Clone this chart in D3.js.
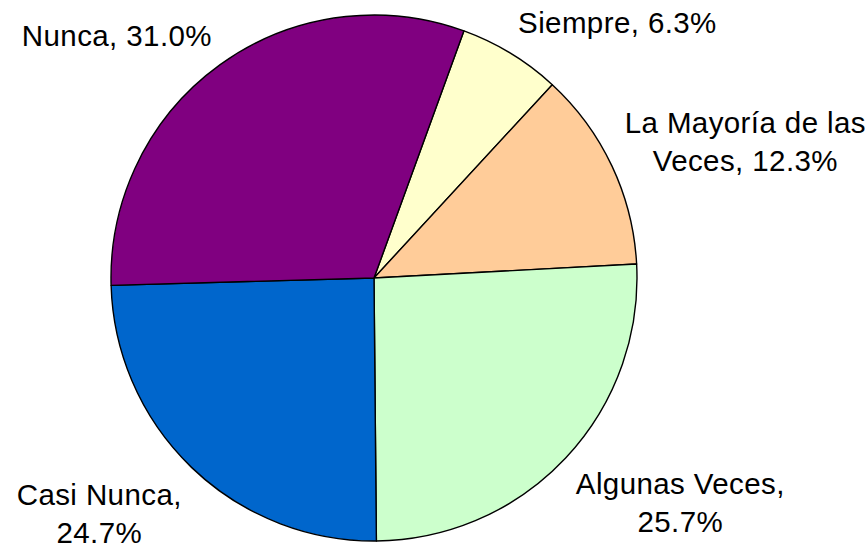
<!DOCTYPE html>
<html><head><meta charset="utf-8">
<script src="https://cdn.jsdelivr.net/npm/d3@7"></script>
<style>html,body{margin:0;padding:0;background:#fff;}svg{display:block;}</style>
</head><body>
<svg id="chart" width="865" height="545"></svg>
<script>
const categories = ["Siempre", "La Mayoría de las Veces", "Algunas Veces", "Casi Nunca", "Nunca"];
const values = [6.3, 12.3, 25.7, 24.7, 31.0];
const colors = ["#FFFFCC", "#FFCC99", "#CCFFCC", "#0066CC", "#800080"];

const W = 865, H = 545;
const cx = 374, cy = 278, r = 263;
const startDeg = 20;
const fontSize = 29.5, lineH = 38, maxW = 252;

const svg = d3.select("#chart");
const g = svg.append("g").attr("transform", `translate(${cx},${cy})`);

const pie = d3.pie().sort(null).value(d => d.v)
  .startAngle(startDeg * Math.PI / 180)
  .endAngle((startDeg + 360) * Math.PI / 180);
const data = categories.map((c, i) => ({c, v: values[i], col: colors[i]}));
const arcs = pie(data);
const arc = d3.arc().innerRadius(0).outerRadius(r);

g.selectAll("path.slice").data(arcs).join("path")
  .attr("class", "slice")
  .attr("d", arc)
  .attr("fill", d => d.data.col)
  .attr("stroke", "#000")
  .attr("stroke-width", 1.4)
  .attr("stroke-linejoin", "round");

// labels (outside end, box corner anchored on a ring just outside the pie)
const labelR = r + 14;
arcs.forEach(d => {
  const a = (d.startAngle + d.endAngle) / 2;
  const s = Math.sin(a), co = Math.cos(a);
  const px = labelR * s, py = -labelR * co;
  const txt = `${d.data.c}, ${d.data.v.toFixed(1)}%`;
  const t = g.append("text")
    .attr("font-family", "'Liberation Sans', Arial, Helvetica, sans-serif")
    .attr("font-size", fontSize)
    .attr("letter-spacing", 0.4)
    .attr("fill", "#000")
    .attr("text-anchor", "middle");
  const words = txt.split(" ");
  const lines = [];
  let cur = "";
  const probe = t.append("tspan");
  words.forEach(w => {
    const trial = cur ? cur + " " + w : w;
    probe.text(trial);
    if (cur && probe.node().getComputedTextLength() > maxW) {
      lines.push(cur); cur = w;
    } else cur = trial;
  });
  lines.push(cur);
  probe.remove();
  let bw = 0;
  const spans = lines.map(l => {
    const sp = t.append("tspan").text(l);
    bw = Math.max(bw, sp.node().getComputedTextLength());
    return sp;
  });
  const bh = 29 + (lines.length - 1) * lineH;
  const xfrac = s >= 0 ? 0 : 1;
  const yfrac = 0.43 + 0.72 * co;
  const left = px - xfrac * bw;
  const top = py - yfrac * bh;
  const mid = left + bw / 2;
  spans.forEach((sp, i) => sp.attr("x", mid).attr("y", top + 22 + i * lineH));
});
</script>
</body></html>
